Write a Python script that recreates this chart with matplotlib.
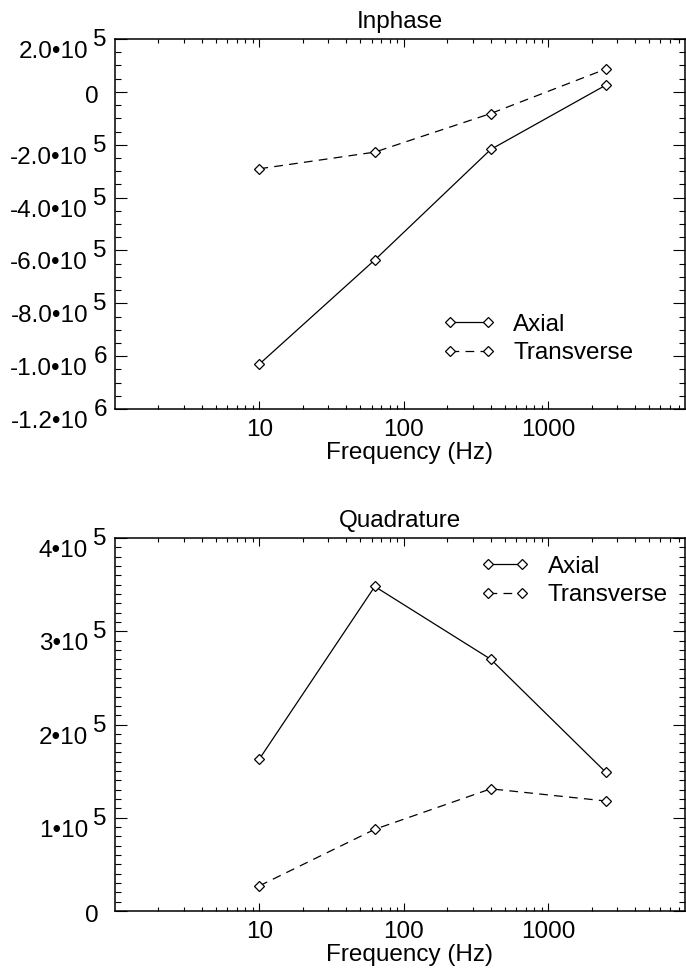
import matplotlib
matplotlib.use('Agg')
import matplotlib.pyplot as plt
from matplotlib.ticker import FixedLocator, LogLocator, NullFormatter, MultipleLocator
from matplotlib.transforms import offset_copy, blended_transform_factory

# data
freq = [10, 63, 400, 2500]
inphase_axial = [-1.03e6, -6.36e5, -2.18e5, 0.25e5]
inphase_trans = [-2.91e5, -2.28e5, -0.82e5, 0.86e5]
quad_axial = [1.63e5, 3.48e5, 2.70e5, 1.49e5]
quad_trans = [0.27e5, 0.876e5, 1.31e5, 1.18e5]

# y tick labels (mantissa, exponent)
top_ticks = [2.0e5, 0, -2.0e5, -4.0e5, -6.0e5, -8.0e5, -1.0e6, -1.2e6]
top_mant = ['2.0•10', '0', '-2.0•10', '-4.0•10', '-6.0•10', '-8.0•10', '-1.0•10', '-1.2•10']
top_exp = ['5', '', '5', '5', '5', '5', '6', '6']
bot_ticks = [4e5, 3e5, 2e5, 1e5, 0]
bot_mant = ['4•10', '3•10', '2•10', '1•10', '0']
bot_exp = ['5', '5', '5', '5', '']
xticks = [10, 100, 1000]
xlabels = ['10', '100', '1000']

plt.rcParams['font.family'] = ['Liberation Sans', 'DejaVu Sans']
plt.rcParams['font.size'] = 17.5

fig = plt.figure(figsize=(6.86, 9.76), dpi=100)
ax1 = fig.add_axes([115/686, 1-409/976, 570/686, 370/976])
ax2 = fig.add_axes([115/686, 1-911/976, 570/686, 373/976])


def ylabels(ax, vals, mant, expo):
    ax.yaxis.set_major_locator(FixedLocator(vals))
    ax.set_yticklabels([])
    tr = blended_transform_factory(ax.transAxes, ax.transData)
    for v, m, e in zip(vals, mant, expo):
        if e == '':
            t = offset_copy(tr, fig=fig, x=-16, y=-5, units='dots')
            ax.text(0, v, m, transform=t, ha='right', va='center')
        else:
            t = offset_copy(tr, fig=fig, x=-27, y=-13, units='dots')
            ax.text(0, v, m, transform=t, ha='right', va='center')
            t = offset_copy(tr, fig=fig, x=-8, y=-1, units='dots')
            ax.text(0, v, e, transform=t, ha='right', va='center')


def style(ax, title):
    ax.set_xscale('log')
    ax.set_xlim(1, 8870)
    ax.xaxis.set_major_locator(FixedLocator(xticks))
    ax.set_xticklabels(xlabels)
    ax.xaxis.set_minor_locator(LogLocator(base=10, subs=range(2, 10), numticks=20))
    ax.xaxis.set_minor_formatter(NullFormatter())
    ax.tick_params(axis='both', which='both', direction='in', top=True, right=True, width=0.8)
    ax.tick_params(axis='x', which='major', length=5.5, pad=7.5)
    ax.tick_params(axis='x', which='minor', length=2.8)
    ax.tick_params(axis='y', which='major', length=8.4)
    ax.tick_params(axis='y', which='minor', length=4.3)
    for s in ax.spines.values():
        s.set_linewidth(1.1)
    ax.set_xlabel('Frequency (Hz)', labelpad=0.5)
    ax.xaxis.label.set_x((409-115)/570)
    ax.set_title(title, fontsize=17.5, pad=8)


# top: inphase
ax1.plot(freq, inphase_axial, '-', color='black', lw=0.9, marker='D', ms=5,
         mfc='white', mec='black', mew=0.9, label='Axial')
ax1.plot(freq, inphase_trans, color='black', lw=0.9, dashes=(7, 5), marker='D', ms=5,
         mfc='white', mec='black', mew=0.9, label='Transverse')
ax1.set_ylim(-1.2e6, 2.0e5)
ax1.yaxis.set_minor_locator(MultipleLocator(5e4))
style(ax1, 'Inphase')
ylabels(ax1, top_ticks, top_mant, top_exp)
ax1.legend(loc='center left', bbox_to_anchor=((443-115)/570, (409-339)/370), numpoints=2,
           frameon=False, handlelength=2.14, handletextpad=0.74, labelspacing=0.25,
           borderpad=0, borderaxespad=0)

# bottom: quadrature
ax2.plot(freq, quad_axial, '-', color='black', lw=0.9, marker='D', ms=5,
         mfc='white', mec='black', mew=0.9, label='Axial')
ax2.plot(freq, quad_trans, color='black', lw=0.9, dashes=(7, 5), marker='D', ms=5,
         mfc='white', mec='black', mew=0.9, label='Transverse')
ax2.set_ylim(0, 4e5)
ax2.yaxis.set_minor_locator(MultipleLocator(1e4))
style(ax2, 'Quadrature')
ylabels(ax2, bot_ticks, bot_mant, bot_exp)
ax2.legend(loc='center left', bbox_to_anchor=((481-115)/570, (911-581)/373), numpoints=2,
           frameon=False, handlelength=2.0, handletextpad=0.74, labelspacing=0.25,
           borderpad=0, borderaxespad=0)

fig.savefig('out.png', dpi=100)
